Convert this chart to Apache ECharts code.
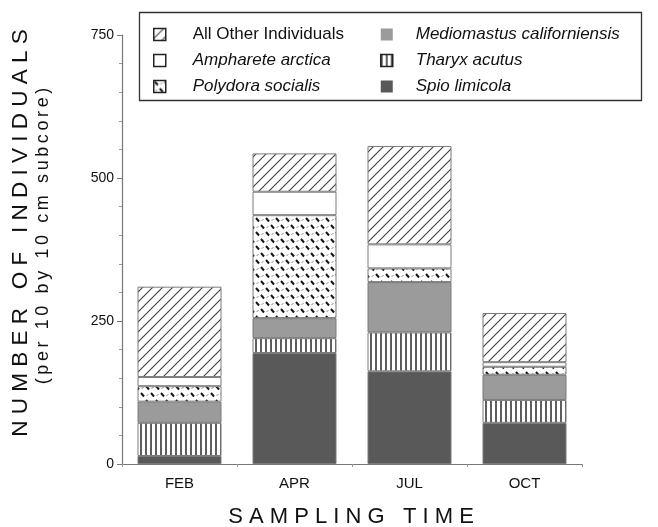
<!DOCTYPE html>
<html>
<head>
<meta charset="utf-8">
<script src="https://cdn.jsdelivr.net/npm/echarts@6/dist/echarts.min.js"></script>
<style>
  html, body { margin: 0; padding: 0; background: #fff; }
  #chart { width: 658px; height: 527px; }
</style>
</head>
<body>
<div id="chart"></div>
<script>
// Sampling months (x categories)
const months = ['FEB', 'APR', 'JUL', 'OCT'];

// Individuals per 10 by 10 cm subcore, stacked bottom to top
const spioLimicola = [14, 194, 162, 72];
const tharyxAcutus = [58, 26, 68, 40];
const mediomastusCaliforniensis = [37, 35, 88, 44];
const polydoraSocialis = [27, 180, 24, 14];
const amphareteArctica = [16, 41, 42, 8];
const allOtherIndividuals = [158, 67, 172, 86];

// Y axis ticks
const yTicks = [0, 250, 500, 750];

const FONT = '"Liberation Sans", Arial, Helvetica, sans-serif';

// Small canvas tiles used as fill patterns
function tile(w, h, draw) {
  const c = document.createElement('canvas');
  c.width = w; c.height = h;
  const ctx = c.getContext('2d');
  ctx.fillStyle = '#ffffff';
  ctx.fillRect(0, 0, w, h);
  draw(ctx);
  return { image: c, repeat: 'repeat' };
}
function seg(ctx, x1, y1, x2, y2) {
  ctx.beginPath(); ctx.moveTo(x1, y1); ctx.lineTo(x2, y2); ctx.stroke();
}

const hatchFill = tile(10, 10, ctx => {
  ctx.strokeStyle = '#3c3c3c'; ctx.lineWidth = 1.1;
  seg(ctx, -1, 11, 11, -1);
  seg(ctx, -1, 1, 1, -1);
  seg(ctx, 9, 11, 11, 9);
});
const stripeFill = tile(5, 5, ctx => {
  ctx.fillStyle = '#5e5e5e';
  ctx.fillRect(0, 0, 2, 5);
});
const dashFill = tile(10, 14, ctx => {
  ctx.strokeStyle = '#8c8c8c'; ctx.lineWidth = 1;
  seg(ctx, 6.5, 4, 8.5, 2);
  seg(ctx, 1.5, 11, 3.5, 9);
  ctx.strokeStyle = '#161616'; ctx.lineWidth = 2;
  seg(ctx, 1, 1, 4, 4.5);
  seg(ctx, 6, 8, 9, 11.5);
});
const plainFill = '#ffffff';
const greyFill = '#9b9b9b';
const darkFill = '#595959';

const names = {
  spio: 'Spio limicola',
  tharyx: 'Tharyx acutus',
  medio: 'Mediomastus californiensis',
  poly: 'Polydora socialis',
  amph: 'Ampharete arctica',
  other: 'All Other Individuals'
};

function barSeries(name, data, fill) {
  return {
    name: name,
    type: 'bar',
    stack: 'total',
    barWidth: 84,
    data: data,
    itemStyle: { color: fill, borderColor: '#7a7a7a', borderWidth: 1 },
    emphasis: { disabled: true },
    animation: false
  };
}

const legendText = { fontSize: 17, fontFamily: FONT, color: '#111', fontStyle: 'italic', lineHeight: 14 };
const boxed = { borderColor: '#222', borderWidth: 1.5 };

const option = {
  backgroundColor: '#ffffff',
  animation: false,
  grid: { left: 122, right: 76, top: 35, bottom: 63 },
  legend: [
    {
      left: 153, top: 26, orient: 'vertical', icon: 'rect', padding: 0,
      itemWidth: 12, itemHeight: 12, itemGap: 9, selectedMode: false,
      textStyle: Object.assign({}, legendText, { padding: [0, 0, 0, 22] }),
      data: [
        { name: names.other, itemStyle: boxed, textStyle: { fontStyle: 'normal' } },
        { name: names.amph, itemStyle: boxed },
        { name: names.poly, itemStyle: boxed }
      ]
    },
    {
      left: 380, top: 26, orient: 'vertical', icon: 'rect', padding: 0,
      itemWidth: 12, itemHeight: 12, itemGap: 9, selectedMode: false,
      textStyle: Object.assign({}, legendText, { padding: [0, 0, 0, 18] }),
      data: [
        { name: names.medio, itemStyle: { borderWidth: 0 } },
        { name: names.tharyx, itemStyle: boxed },
        { name: names.spio, itemStyle: { borderWidth: 0 } }
      ]
    }
  ],
  xAxis: {
    type: 'category',
    data: months,
    axisLine: { lineStyle: { color: '#777', width: 1.2 } },
    axisTick: { show: true, length: 3, lineStyle: { color: '#999' } },
    axisLabel: { fontSize: 15, fontFamily: FONT, color: '#111', margin: 12 }
  },
  yAxis: {
    type: 'value',
    min: yTicks[0],
    max: yTicks[yTicks.length - 1],
    interval: yTicks[1] - yTicks[0],
    axisLine: { show: true, lineStyle: { color: '#777', width: 1.2 } },
    axisTick: { show: true, length: 5, lineStyle: { color: '#777' } },
    minorTick: { show: true, splitNumber: 5, length: 3, lineStyle: { color: '#999' } },
    splitLine: { show: false },
    axisLabel: { fontSize: 14, fontFamily: FONT, color: '#111', margin: 8 }
  },
  graphic: [
    {
      type: 'rect', silent: true,
      shape: { x: 139.5, y: 12.5, width: 502, height: 88 },
      style: { fill: 'none', stroke: '#333', lineWidth: 1.3 }
    },
    {
      type: 'text', silent: true, x: 21, y: 233, rotation: Math.PI / 2,
      style: {
        text: 'N U M B E R   O F   I N D I V I D U A L S',
        fontSize: 22.5, fontFamily: FONT, fill: '#111',
        align: 'center', verticalAlign: 'middle'
      }
    },
    {
      type: 'text', silent: true, x: 43, y: 236, rotation: Math.PI / 2,
      style: {
        text: '(\u2009p\u2009e\u2009r\u2009 \u20091\u20090\u2009 \u2009b\u2009y\u2009 \u20091\u20090\u2009 \u2009c\u2009m\u2009 \u2009s\u2009u\u2009b\u2009c\u2009o\u2009r\u2009e\u2009)',
        fontSize: 18, fontFamily: FONT, fill: '#111',
        align: 'center', verticalAlign: 'middle'
      }
    },
    {
      type: 'text', silent: true, x: 351, y: 517,
      style: {
        text: 'S A M P L I N G   T I M E',
        fontSize: 22, fontFamily: FONT, fill: '#111',
        align: 'center', verticalAlign: 'middle'
      }
    }
  ],
  series: [
    barSeries(names.spio, spioLimicola, darkFill),
    barSeries(names.tharyx, tharyxAcutus, stripeFill),
    barSeries(names.medio, mediomastusCaliforniensis, greyFill),
    barSeries(names.poly, polydoraSocialis, dashFill),
    barSeries(names.amph, amphareteArctica, plainFill),
    barSeries(names.other, allOtherIndividuals, hatchFill)
  ]
};

const chart = echarts.init(document.getElementById('chart'), null, { renderer: 'canvas' });
chart.setOption(option);
</script>
</body>
</html>
